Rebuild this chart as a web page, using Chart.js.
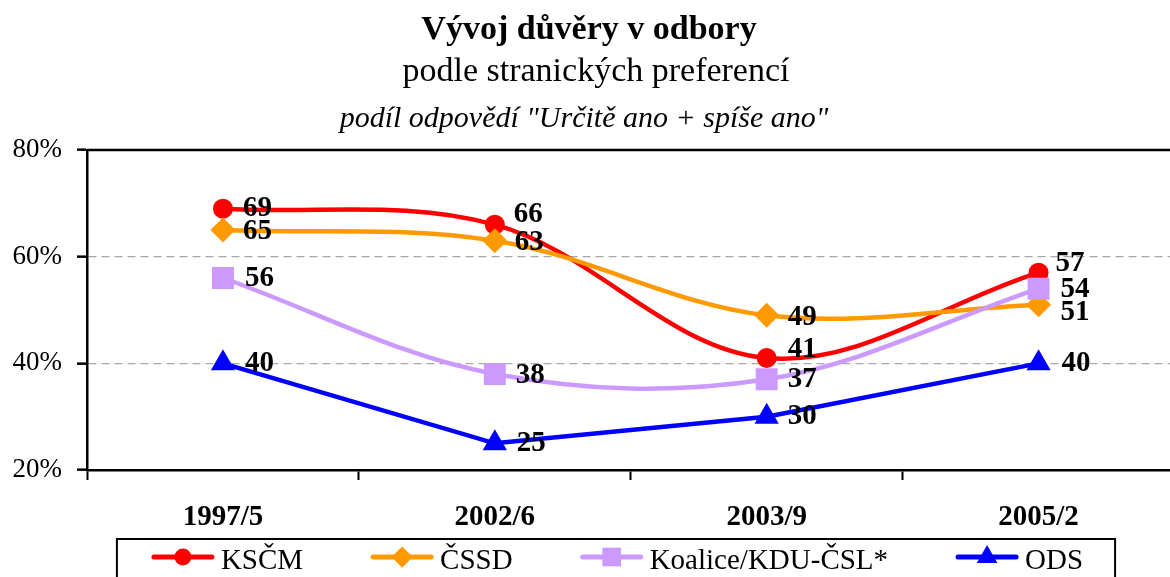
<!DOCTYPE html>
<html><head><meta charset="utf-8">
<script src="https://cdn.jsdelivr.net/npm/chart.js@4.4.1/dist/chart.umd.min.js"></script>
<style>
html,body{margin:0;padding:0;overflow:hidden;background:#fff;width:1170px;height:577px;}
#wrap{position:absolute;left:0;top:0;width:1190px;height:577px;}
.t{position:absolute;width:1170px;text-align:center;font-family:"Liberation Serif","Times New Roman",serif;line-height:1;white-space:nowrap;color:#000;margin:0}
</style></head><body>
<div id="wrap"><canvas id="c" width="1190" height="577"></canvas></div>
<div class="t" style="top:11px;left:4px;font-size:34px;font-weight:bold">Vývoj důvěry v odbory</div>
<div class="t" style="top:53px;left:11px;font-size:34px;">podle stranických preferencí</div>
<div class="t" style="top:102px;left:-1px;font-size:30px;font-style:italic">podíl odpovědí "Určitě ano + spíše ano"</div>
<script>
const categories = ['1997/5', '2002/6', '2003/9', '2005/2'];
const seriesNames = ['KSČM', 'ČSSD', 'Koalice/KDU-ČSL*', 'ODS'];
const kscm = [69, 66, 41, 57];
const cssd = [65, 63, 49, 51];
const koalice = [56, 38, 37, 54];
const ods = [40, 25, 30, 40];
const yTicks = [20, 40, 60, 80];

// label offsets (dx, dy) relative to each point
const labelOffsets = [
  [[20, 0], [19, -10], [21, -8], [17, -9]],
  [[20, 2], [20, 2], [21, 2], [22, 8]],
  [[22, 1], [21, 2], [21, 0], [22, 1]],
  [[22, 0], [22, 0], [21, 0], [23, 0]]
];

const FONT = '"Liberation Serif","Times New Roman",serif';
const colors = ['#FF0000', '#FF9900', '#CC99FF', '#0000FF'];
const styles = ['circle', 'rectRot', 'rect', 'triangle'];
const radii = [10, 12.5, 15.5, 14];
const tensions = [0.35, 0.35, 0.35, 0];
const orders = [4, 3, 2, 1];
const seriesData = [kscm, cssd, koalice, ods];

const datasets = seriesNames.map((name, i) => ({
  label: name,
  data: seriesData[i],
  borderColor: colors[i],
  backgroundColor: colors[i],
  pointBackgroundColor: colors[i],
  pointBorderColor: colors[i],
  pointBorderWidth: 0,
  pointStyle: styles[i],
  pointRadius: radii[i],
  pointHoverRadius: radii[i],
  borderWidth: 4.5,
  tension: tensions[i],
  fill: false,
  order: orders[i]
}));

const topBorder = {
  id: 'topBorder',
  afterDraw(chart) {
    const {ctx, chartArea} = chart;
    ctx.save();
    ctx.strokeStyle = '#000';
    ctx.lineWidth = 2.5;
    ctx.beginPath();
    ctx.moveTo(chartArea.left, chartArea.top);
    ctx.lineTo(chartArea.right, chartArea.top);
    ctx.stroke();
    ctx.restore();
  }
};

const dataLabels = {
  id: 'dataLabels',
  afterDatasetsDraw(chart) {
    const ctx = chart.ctx;
    ctx.save();
    ctx.font = 'bold 29px ' + FONT;
    ctx.fillStyle = '#000';
    ctx.textAlign = 'left';
    ctx.textBaseline = 'middle';
    chart.data.datasets.forEach((ds, di) => {
      const meta = chart.getDatasetMeta(di);
      meta.data.forEach((pt, i) => {
        const off = labelOffsets[di][i];
        ctx.fillText(String(ds.data[i]), pt.x + off[0], pt.y + off[1]);
      });
    });
    ctx.restore();
  }
};

const boxLegend = {
  id: 'boxLegend',
  afterDraw(chart) {
    const ctx = chart.ctx;
    ctx.save();
    ctx.font = '29px ' + FONT;
    const iconW = 62, gapIcon = 7, gapItem = 68, centerX = 617.5;
    const items = chart.data.datasets.map(ds => ({ds, w: ctx.measureText(ds.label).width}));
    const total = items.reduce((s, it) => s + iconW + gapIcon + it.w, 0) + gapItem * (items.length - 1);
    let x = centerX - total / 2;
    const base = chart.scales.x.bottom;
    const lineY = base + 27;
    const left = x - 35, right = centerX + total / 2 + 32;
    ctx.strokeStyle = '#000';
    ctx.lineWidth = 2;
    ctx.strokeRect(left, base + 9, right - left, 80);
    items.forEach(it => {
      const ds = it.ds;
      ctx.strokeStyle = ds.borderColor;
      ctx.fillStyle = ds.borderColor;
      ctx.lineWidth = 5;
      ctx.lineCap = 'round';
      ctx.beginPath();
      ctx.moveTo(x + 2, lineY);
      ctx.lineTo(x + iconW - 2, lineY);
      ctx.stroke();
      Chart.helpers.drawPoint(ctx, {pointStyle: ds.pointStyle, radius: ds.pointRadius * 0.85, rotation: 0, borderWidth: 0}, x + iconW / 2, lineY);
      ctx.fillStyle = '#000';
      ctx.textAlign = 'left';
      ctx.textBaseline = 'alphabetic';
      ctx.fillText(ds.label, x + iconW + gapIcon, lineY + 12);
      x += iconW + gapIcon + it.w + gapItem;
    });
    ctx.restore();
  }
};

new Chart(document.getElementById('c'), {
  type: 'line',
  data: {labels: categories, datasets},
  options: {
    responsive: false,
    animation: false,
    events: [],
    layout: {padding: {top: 150, left: 0, right: 10, bottom: 47}},
    plugins: {legend: {display: false}, title: {display: false}, tooltip: {enabled: false}},
    scales: {
      x: {
        type: 'category',
        offset: true,
        afterFit(s) { s.height = 60; },
        grid: {offset: true, drawOnChartArea: false, drawTicks: true, tickLength: 10, tickColor: '#000', tickWidth: 2},
        border: {color: '#000', width: 2.5},
        ticks: {font: {family: FONT, size: 29, weight: 'bold'}, color: '#000', padding: 20, maxRotation: 0, autoSkip: false}
      },
      y: {
        min: yTicks[0],
        max: yTicks[yTicks.length - 1],
        afterFit(s) { s.width = 87; },
        afterBuildTicks(s) { s.ticks = yTicks.map(v => ({value: v})); },
        ticks: {font: {family: FONT, size: 27}, color: '#000', padding: 15, callback: v => v + '%'},
        grid: {
          color: c => (c.tick && c.tick.value > yTicks[0] && c.tick.value < yTicks[yTicks.length - 1]) ? '#a8a8a8' : 'rgba(0,0,0,0)',
          lineWidth: 1.3,
          tickColor: '#000', tickLength: 10, tickWidth: 2.5, drawTicks: true
        },
        border: {color: '#000', width: 2.5, dash: [8, 5]}
      }
    }
  },
  plugins: [topBorder, dataLabels, boxLegend]
});
</script>
</body></html>
